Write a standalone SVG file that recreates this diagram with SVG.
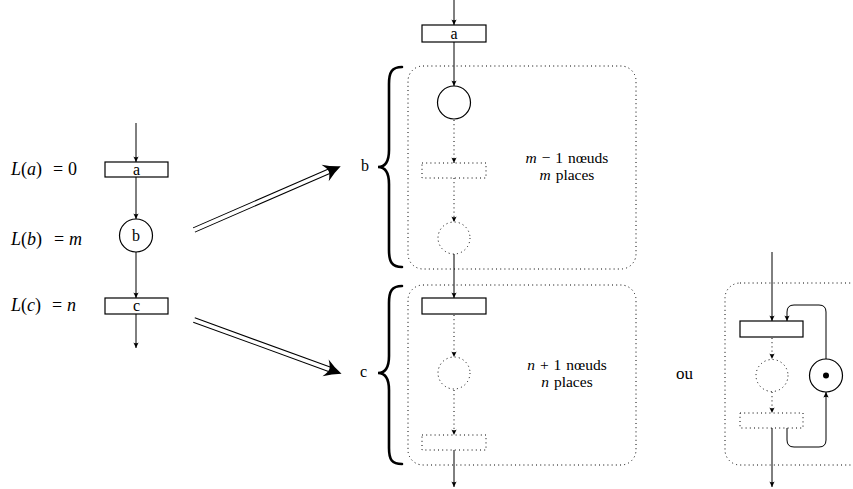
<svg xmlns="http://www.w3.org/2000/svg" width="853" height="489" viewBox="0 0 853 489">
<style>
.n{fill:#fff;stroke:#000;stroke-width:1.2}
.d{fill:none;stroke:#000;stroke-width:1;stroke-dasharray:1 3.2}
.e{fill:none;stroke:#000;stroke-width:1}
.t{font-family:"Liberation Serif","Times New Roman",serif;font-size:16px;fill:#000}
.m{font-size:15.5px;word-spacing:1px}
.L{font-size:18px}
.c{text-anchor:middle}
.i{font-style:italic}
.br{fill:none;stroke:#000;stroke-width:2.6;stroke-linecap:round}
</style>
<defs>
<marker id="ah" viewBox="-6 -3 7 6" refX="0" refY="0" markerWidth="7" markerHeight="6" orient="auto" markerUnits="userSpaceOnUse">
<path d="M0,0 L-5.5,-2.6 Q-3.8,0 -5.5,2.6 Z" fill="#000"/>
</marker>
</defs>
<g id="connectors">
<line class="e" x1="136" y1="123" x2="136" y2="162" marker-end="url(#ah)"/>
<line class="e" x1="136" y1="177" x2="136" y2="219" marker-end="url(#ah)"/>
<line class="e" x1="136" y1="252" x2="136" y2="298" marker-end="url(#ah)"/>
<line class="e" x1="136" y1="314" x2="136" y2="348" marker-end="url(#ah)"/>
<line class="e" x1="454" y1="0" x2="454" y2="25" marker-end="url(#ah)"/>
<line class="e" x1="454" y1="42" x2="454" y2="86" marker-end="url(#ah)"/>
<line class="d" x1="454" y1="120" x2="454" y2="163" marker-end="url(#ah)"/>
<line class="d" x1="454" y1="178" x2="454" y2="222" marker-end="url(#ah)"/>
<line class="e" x1="454" y1="254" x2="454" y2="298" marker-end="url(#ah)"/>
<line class="d" x1="454" y1="315" x2="454" y2="357" marker-end="url(#ah)"/>
<line class="d" x1="454" y1="390" x2="454" y2="435" marker-end="url(#ah)"/>
<line class="e" x1="454" y1="450" x2="454" y2="487" marker-end="url(#ah)"/>
<line class="e" x1="772" y1="252" x2="772" y2="321" marker-end="url(#ah)"/>
<line class="d" x1="772" y1="338" x2="772" y2="359" marker-end="url(#ah)"/>
<line class="d" x1="772" y1="392" x2="772" y2="413" marker-end="url(#ah)"/>
<line class="e" x1="772" y1="428" x2="772" y2="487" marker-end="url(#ah)"/>
<path class="e" d="M787,428 L787,440 Q787,447 794,447 L819,447 Q826,447 826,440 L826,392" marker-end="url(#ah)"/>
<path class="e" d="M826,359 L826,312 Q826,305 819,305 L794,305 Q787,305 787,312 L787,321" marker-end="url(#ah)"/>
<g transform="translate(194,230) rotate(-23.5)">
<line class="e" x1="0" y1="-2.3" x2="147" y2="-2.3"/>
<line class="e" x1="0" y1="2.3" x2="147" y2="2.3"/>
<path d="M160,0 Q151,-3.5 143,-9 Q147,-3 147,0 Q147,3 143,9 Q151,3.5 160,0 Z" fill="#000"/>
</g>
<g transform="translate(194,320) rotate(20)">
<line class="e" x1="0" y1="-2.3" x2="144" y2="-2.3"/>
<line class="e" x1="0" y1="2.3" x2="144" y2="2.3"/>
<path d="M157,0 Q148,-3.5 140,-9 Q144,-3 144,0 Q144,3 140,9 Q148,3.5 157,0 Z" fill="#000"/>
</g>
</g>
<g id="labels-left">
<text class="t L" x="11" y="175"><tspan class="i">L</tspan>(<tspan class="i">a</tspan>)</text>
<text class="t L" x="53" y="175">=</text>
<text class="t L" x="68" y="175">0</text>
<text class="t L" x="11" y="245"><tspan class="i">L</tspan>(<tspan class="i">b</tspan>)</text>
<text class="t L" x="54" y="245">=</text>
<text class="t L i" x="69" y="245">m</text>
<text class="t L" x="11" y="311"><tspan class="i">L</tspan>(<tspan class="i">c</tspan>)</text>
<text class="t L" x="52" y="311">=</text>
<text class="t L i" x="67" y="311">n</text>
</g>
<g id="node-a"><rect class="n" x="105" y="162" width="63" height="15"/><text class="t c" x="136.5" y="174.5">a</text></g>
<g id="node-b"><circle class="n" cx="136" cy="235.5" r="16.5"/><text class="t c" x="136" y="241">b</text></g>
<g id="node-c"><rect class="n" x="105" y="298" width="63" height="16"/><text class="t c" x="136.5" y="310.5">c</text></g>
<g id="box-b">
<rect class="d" x="408" y="66" width="228" height="203" rx="15"/>
<path class="br" d="M402,67 C392,67 389,72 389,84 L389,150 C389,161 386,167 378,167 C386,167 389,173 389,184 L389,250 C389,262 392,267 402,267"/>
<text class="t" x="361" y="171">b</text>
<text class="t m c" x="567" y="163"><tspan class="i">m</tspan> − 1 nœuds</text>
<text class="t m c" x="567" y="180"><tspan class="i">m</tspan> places</text>
</g>
<g id="node-a2"><rect class="n" x="422" y="25" width="64" height="17"/><text class="t c" x="454" y="38.5">a</text></g>
<g id="place-b1"><circle class="n" cx="454" cy="102.5" r="16.5"/></g>
<g id="trans-b"><rect class="d" x="422" y="163" width="64" height="15"/></g>
<g id="place-b2"><circle class="d" cx="454" cy="238" r="16"/></g>
<g id="box-c">
<rect class="d" x="408" y="285" width="228" height="180" rx="15"/>
<path class="br" d="M402,286 C392,286 389,291 389,303 L389,356 C389,367 386,373 378,373 C386,373 389,379 389,390 L389,448 C389,460 392,464 402,464"/>
<text class="t" x="360" y="377">c</text>
<text class="t m c" x="567" y="370"><tspan class="i">n</tspan> + 1 nœuds</text>
<text class="t m c" x="567" y="387"><tspan class="i">n</tspan> places</text>
</g>
<g id="trans-c1"><rect class="n" x="422" y="298" width="64" height="16"/></g>
<g id="place-c"><circle class="d" cx="454" cy="373" r="16"/></g>
<g id="trans-c2"><rect class="d" x="422" y="435" width="64" height="15"/></g>
<g id="alt">
<text class="t" x="676" y="379" style="font-size:17px">ou</text>
<rect class="d" x="725" y="283" width="200" height="182" rx="15"/>
</g>
<g id="trans-r1"><rect class="n" x="740" y="321" width="63" height="16"/></g>
<g id="place-r"><circle class="d" cx="772" cy="375.5" r="16"/></g>
<g id="trans-r2"><rect class="d" x="740" y="413" width="63" height="15"/></g>
<g id="place-token"><circle class="n" cx="826" cy="375.5" r="16.5"/><circle cx="826" cy="375.5" r="3" fill="#000"/></g>
</svg>
